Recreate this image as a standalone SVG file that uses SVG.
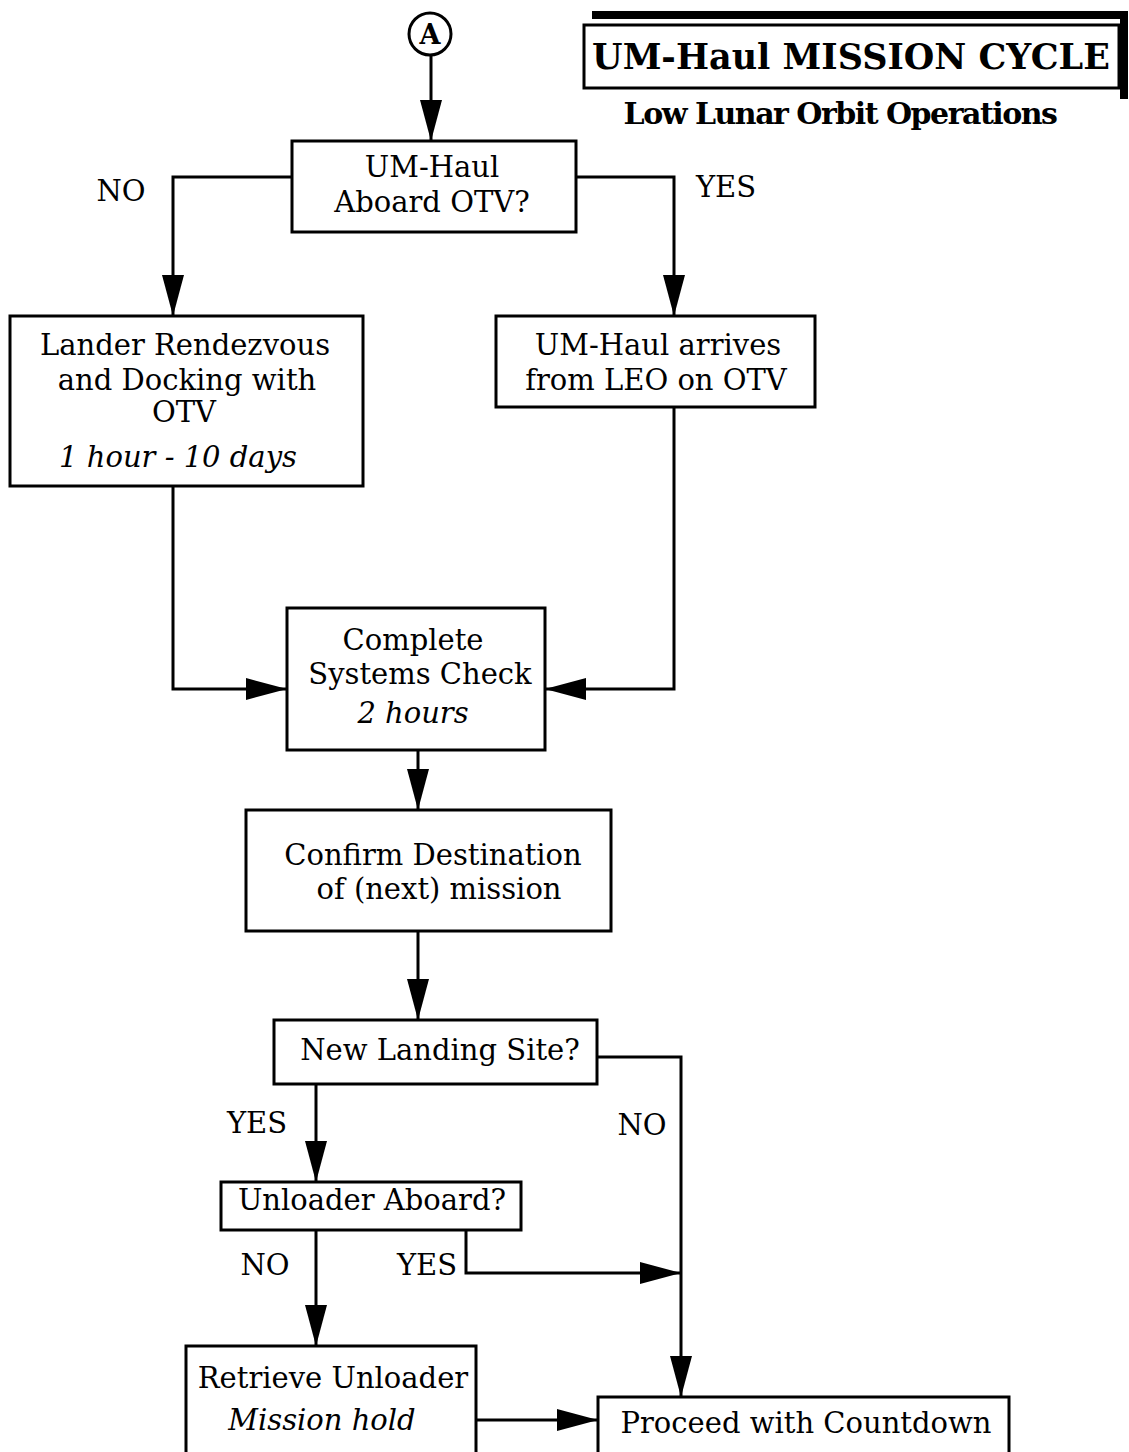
<svg xmlns="http://www.w3.org/2000/svg" width="1129" height="1452" viewBox="0 0 1129 1452">
<style>
.box{fill:#fff;stroke:#000;stroke-width:3}
.t{font-family:"DejaVu Serif","Liberation Serif",serif;font-size:29px;fill:#000;text-anchor:middle}
.i{font-style:italic}
.lbl{font-family:"DejaVu Serif","Liberation Serif",serif;font-size:29px;fill:#000;text-anchor:middle}
.c{fill:none;stroke:#000;stroke-width:3}
</style>
<defs>
<marker id="ah" markerUnits="userSpaceOnUse" markerWidth="44" markerHeight="24" refX="41" refY="11" orient="auto">
<path d="M0,0 L41,11 L0,22 Z" fill="#000"/>
</marker>
</defs>
<rect width="1129" height="1452" fill="#fff"/>

<g id="title">
<rect x="592" y="11" width="536" height="8" fill="#000"/>
<rect x="1120" y="11" width="8" height="88" fill="#000"/>
<rect x="584" y="25" width="535" height="63" fill="#fff" stroke="#000" stroke-width="3"/>
<text x="851" y="69" style="font-family:'DejaVu Serif','Liberation Serif',serif;font-weight:bold;font-size:35px;text-anchor:middle">UM-Haul MISSION CYCLE</text>
<text x="840" y="124" style="font-family:'DejaVu Serif','Liberation Serif',serif;font-weight:bold;font-size:30px;letter-spacing:-1.5px;text-anchor:middle">Low Lunar Orbit Operations</text>
</g>

<g id="connectors">
<line class="c" x1="431" y1="55" x2="431" y2="141" marker-end="url(#ah)"/>
<polyline class="c" points="292,177 173,177 173,316" marker-end="url(#ah)"/>
<polyline class="c" points="576,177 674,177 674,316" marker-end="url(#ah)"/>
<polyline class="c" points="173,486 173,689 287,689" marker-end="url(#ah)"/>
<polyline class="c" points="674,407 674,689 545,689" marker-end="url(#ah)"/>
<line class="c" x1="418" y1="750" x2="418" y2="810" marker-end="url(#ah)"/>
<line class="c" x1="418" y1="931" x2="418" y2="1020" marker-end="url(#ah)"/>
<line class="c" x1="316" y1="1084" x2="316" y2="1182" marker-end="url(#ah)"/>
<polyline class="c" points="597,1057 681,1057 681,1397" marker-end="url(#ah)"/>
<line class="c" x1="316" y1="1230" x2="316" y2="1346" marker-end="url(#ah)"/>
<polyline class="c" points="466,1230 466,1273 681,1273" marker-end="url(#ah)"/>
<line class="c" x1="476" y1="1420" x2="598" y2="1420" marker-end="url(#ah)"/>
<text class="lbl" x="121" y="201">NO</text>
<text class="lbl" x="726" y="197">YES</text>
<text class="lbl" x="257" y="1133">YES</text>
<text class="lbl" x="642" y="1135">NO</text>
<text class="lbl" x="265" y="1275">NO</text>
<text class="lbl" x="427" y="1275">YES</text>
</g>

<g id="nodeA">
<circle cx="430" cy="34" r="21" fill="#fff" stroke="#000" stroke-width="3"/>
<text x="430" y="44" style="font-family:'DejaVu Serif','Liberation Serif',serif;font-weight:bold;font-size:27px;text-anchor:middle">A</text>
</g>

<g id="aboard">
<rect class="box" x="292" y="141" width="284" height="91"/>
<text class="t" x="432" y="177">UM-Haul</text>
<text class="t" x="432" y="212">Aboard OTV?</text>
</g>

<g id="lander">
<rect class="box" x="10" y="316" width="353" height="170"/>
<text class="t" x="185" y="355">Lander Rendezvous</text>
<text class="t" x="187" y="390">and Docking with</text>
<text class="t" x="184" y="422">OTV</text>
<text class="t i" x="178" y="467">1 hour - 10 days</text>
</g>

<g id="arrives">
<rect class="box" x="496" y="316" width="319" height="91"/>
<text class="t" x="658" y="355">UM-Haul arrives</text>
<text class="t" x="656" y="390">from LEO on OTV</text>
</g>

<g id="check">
<rect class="box" x="287" y="608" width="258" height="142"/>
<text class="t" x="413" y="650">Complete</text>
<text class="t" x="420" y="684">Systems Check</text>
<text class="t i" x="413" y="723">2 hours</text>
</g>

<g id="confirm">
<rect class="box" x="246" y="810" width="365" height="121"/>
<text class="t" x="433" y="865">Confirm Destination</text>
<text class="t" x="439" y="899">of (next) mission</text>
</g>

<g id="newsite">
<rect class="box" x="274" y="1020" width="323" height="64"/>
<text class="t" x="440" y="1060">New Landing Site?</text>
</g>

<g id="unloader">
<rect class="box" x="221" y="1182" width="300" height="48"/>
<text class="t" x="372" y="1210">Unloader Aboard?</text>
</g>

<g id="retrieve">
<rect class="box" x="186" y="1346" width="290" height="110"/>
<text class="t" x="333" y="1388">Retrieve Unloader</text>
<text class="t i" x="322" y="1430">Mission hold</text>
</g>

<g id="proceed">
<rect class="box" x="598" y="1397" width="411" height="59"/>
<text class="t" x="806" y="1433">Proceed with Countdown</text>
</g>
</svg>
